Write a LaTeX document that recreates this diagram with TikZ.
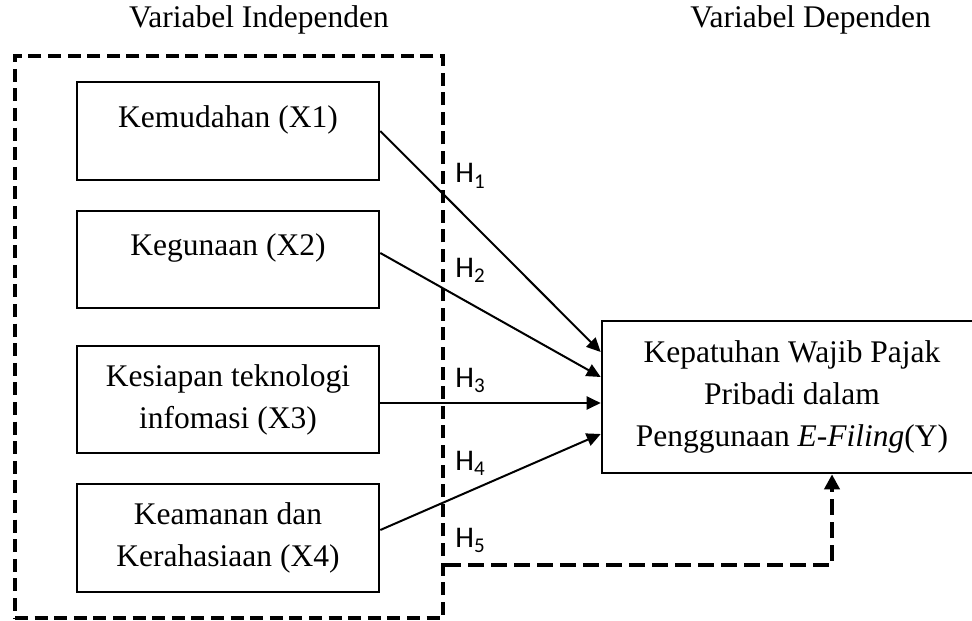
\documentclass[tikz,border=0pt]{standalone}
\usepackage{fontspec}
\setmainfont{Liberation Serif}
\newfontfamily\hfont{Carlito}
\usetikzlibrary{arrows.meta}
\begin{document}
\begin{tikzpicture}[x=0.5pt,y=-0.5pt,
 txt/.style={font=\fontsize{15.75}{21}\selectfont, inner sep=0pt},
 box/.style={draw, line width=1.3pt, txt, align=center, minimum width=151pt},
 hlab/.style={font=\hfont\fontsize{15}{16}\selectfont, anchor=base west, inner sep=0pt},
 dframe/.style={draw, line width=2.2pt, dash pattern=on 6.5pt off 3.3pt, inner sep=0pt},
 link/.style={line width=1pt, -{Triangle[length=7pt,width=6.5pt]}},
 dlink/.style={line width=2.2pt, dash pattern=on 8pt off 3.5pt, -{Triangle[length=7.5pt,width=7.5pt]}}]
\useasboundingbox (0,0) rectangle (972,620);
\clip (0,0) rectangle (972,620);

\node[txt, anchor=base] (ti) at (259,28) {Variabel Independen};
\node[txt, anchor=base] (td) at (810.5,28) {Variabel Dependen};

\node[dframe, minimum width=214pt, minimum height=281pt] (fr) at (229,337) {};

\node[box, minimum height=49pt] (x1) at (228,131) {};
\node[txt, anchor=base] (t1) at (228,128) {Kemudahan (X1)};
\node[box, minimum height=48.5pt] (x2) at (228,259.5) {};
\node[txt, anchor=base] (t2) at (228,255) {Kegunaan (X2)};
\node[box, minimum height=53.5pt] (x3) at (228,399.5) {Kesiapan teknologi\\infomasi (X3)};
\node[box, minimum height=54pt] (x4) at (228,538) {Keamanan dan\\Kerahasiaan (X4)};
\node[box, minimum width=190pt, minimum height=76pt] (y) at (792,397) {Kepatuhan Wajib Pajak\\Pribadi dalam\\Penggunaan \textit{E-Filing}(Y)};

\node[hlab] (h1) at (455,183) {H\raisebox{-2.5pt}{\fontsize{10.5}{11}\selectfont 1}};
\node[hlab] (h2) at (455,277) {H\raisebox{-2.5pt}{\fontsize{10.5}{11}\selectfont 2}};
\node[hlab] (h3) at (455,387) {H\raisebox{-2.5pt}{\fontsize{10.5}{11}\selectfont 3}};
\node[hlab] (h4) at (455,470) {H\raisebox{-2.5pt}{\fontsize{10.5}{11}\selectfont 4}};
\node[hlab] (h5) at (455,547) {H\raisebox{-2.5pt}{\fontsize{10.5}{11}\selectfont 5}};

\draw[link] (x1.east) -- ([yshift=22.5pt]y.west);
\draw[link] ([yshift=3.25pt]x2.east) -- ([yshift=10pt]y.west);
\draw[link] ([yshift=-1.75pt]x3.east) -- ([yshift=-3pt]y.west);
\draw[link] ([yshift=4pt]x4.east) -- ([yshift=-18.5pt]y.west);
\draw[dlink] ([yshift=-114pt]fr.east) -| ([xshift=20pt]y.south);
\end{tikzpicture}
\end{document}
